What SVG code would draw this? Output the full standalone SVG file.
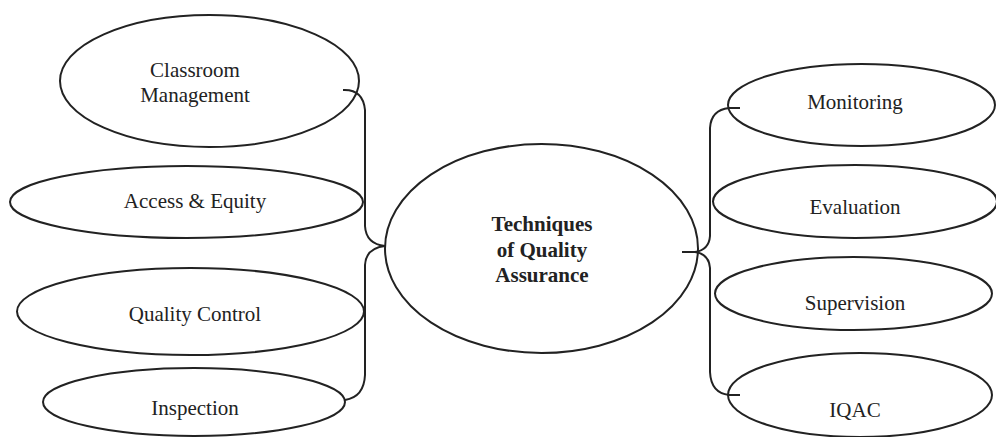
<svg xmlns="http://www.w3.org/2000/svg" width="996" height="437" viewBox="0 0 996 437">
<style>
.n{fill:#fff;stroke:#222;stroke-width:2}
.t{font-family:"Liberation Serif","Times New Roman",serif;font-size:21px;fill:#222;text-anchor:middle}
.b{font-weight:bold}
.c{fill:none;stroke:#222;stroke-width:2}
</style>
<rect width="996" height="437" fill="#fff"/>
<g id="n-classroom"><ellipse class="n" cx="209.5" cy="81" rx="149.5" ry="66"/><text class="t" x="195" y="77">Classroom</text><text class="t" x="195" y="102">Management</text></g>
<g id="n-access"><ellipse class="n" cx="186.5" cy="202" rx="176.5" ry="36"/><text class="t" x="195" y="208">Access &amp; Equity</text></g>
<g id="n-qc"><ellipse class="n" cx="190.5" cy="311.5" rx="173.5" ry="43.5"/><text class="t" x="195" y="321">Quality Control</text></g>
<g id="n-inspection"><ellipse class="n" cx="194" cy="402" rx="151" ry="34"/><text class="t" x="195" y="415">Inspection</text></g>
<g id="n-center"><ellipse class="n" cx="541.5" cy="248.5" rx="156.5" ry="104.5"/><text class="t b" x="542" y="231">Techniques</text><text class="t b" x="542" y="257">of Quality</text><text class="t b" x="542" y="282">Assurance</text></g>
<g id="n-monitoring"><ellipse class="n" cx="861.5" cy="105" rx="133.5" ry="41"/><text class="t" x="855" y="109">Monitoring</text></g>
<g id="n-evaluation"><ellipse class="n" cx="855" cy="201.5" rx="142" ry="36.5"/><text class="t" x="855" y="214">Evaluation</text></g>
<g id="n-supervision"><ellipse class="n" cx="853.5" cy="293.5" rx="138.5" ry="36.5"/><text class="t" x="855" y="310">Supervision</text></g>
<g id="n-iqac"><ellipse class="n" cx="860" cy="395" rx="132" ry="42"/><text class="t" x="855" y="417">IQAC</text></g>
<g id="connectors">
<path class="c" d="M343,90 Q363,89 365,110 L365,226 Q366,244 385,246"/>
<path class="c" d="M385,246 Q366,248 365,265 L365,375 Q364,397 345,400"/>
<path class="c" d="M740,108 L729,108 Q711,110 710,128 L710,236 Q709,250 695,252"/>
<path class="c" d="M682,252 L698,252"/>
<path class="c" d="M695,252 Q709,254 710,268 L710,372 Q711,393 729,395 L740,395"/>
</g>
</svg>
